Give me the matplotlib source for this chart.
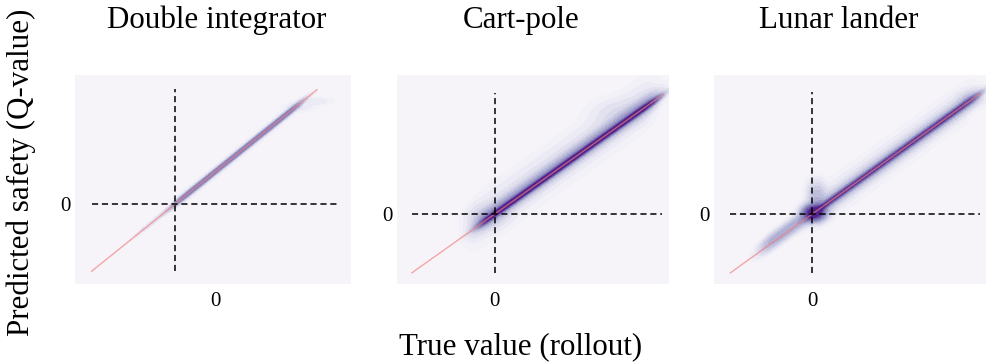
import matplotlib.pyplot as plt
import numpy as np
from matplotlib.colors import LinearSegmentedColormap

plt.rcParams['font.family'] = ['Liberation Serif', 'DejaVu Serif']

titles = ['Double integrator', 'Cart-pole', 'Lunar lander']

# value ranges shown on each panel (scaled units, 0 = safety boundary)
x_lims = [(-1.20, 2.12), (-1.18, 2.10), (-1.20, 2.13)]
y_lims = [(-1.19, 1.93), (-1.19, 2.36), (-1.19, 2.36)]

# extent of the rollout values, predicted values and the y = x reference
true_range = [(-1.0, 1.98), (-1.0, 2.01), (-1.0, 2.04)]
pred_range = [(-1.0, 1.72), (-1.0, 2.05), (-1.0, 2.07)]
diag_range = [(-1.0, 1.71), (-1.0, 2.03), (-1.0, 2.05)]
x_zero_tick = [0.49, 0.0, 0.0]

# density ridges along y = x: start, end, offset above diagonal, width, weight
di_ridges = [(-0.45, 0.0, 0.0, 0.02, 0.05),
             (0.0, 1.50, 0.0, 0.022, 0.40),
             (0.0, 1.50, 0.0, 0.05, 0.05)]
cp_ridges = [(-0.15, 1.95, 0.0, 0.03, 0.8),
             (-0.20, 1.95, 0.03, 0.09, 0.25),
             (-0.30, 1.90, 0.08, 0.24, 0.05)]
ll_ridges = [(0.0, 2.0, 0.0, 0.03, 0.55),
             (-0.05, 2.0, 0.0, 0.08, 0.18),
             (0.0, 1.95, 0.03, 0.18, 0.05),
             (-0.60, -0.05, 0.03, 0.08, 0.22)]

# local clusters: true value, predicted value, spread x, spread y, weight
di_blobs = [(1.50, 1.45, 0.12, 0.04, 0.03),
            (1.70, 1.54, 0.12, 0.035, 0.03)]
cp_blobs = [(-0.10, -0.05, 0.15, 0.12, 0.06),
            (1.45, 1.72, 0.20, 0.15, 0.03)]
ll_blobs = [(0.02, 0.02, 0.08, 0.08, 0.9),
            (0.05, 0.30, 0.07, 0.16, 0.15),
            (1.95, 1.95, 0.10, 0.08, 0.06)]

ridges = [di_ridges, cp_ridges, ll_ridges]
blobs = [di_blobs, cp_blobs, ll_blobs]


def density(X, Y, ridge_list, blob_list):
    D = np.zeros_like(X)
    for x0, x1, off, w, wt in ridge_list:
        L = 0.05
        win = 1 / (1 + np.exp(-(X - x0) / L)) / (1 + np.exp((X - x1) / L))
        D += wt * win * np.exp(-0.5 * ((Y - X - off) / w) ** 2)
    for bx, by, sx, sy, wt in blob_list:
        D += wt * np.exp(-0.5 * (((X - bx) / sx) ** 2 + ((Y - by) / sy) ** 2))
    return D


purples = plt.get_cmap('Purples')
cmap = LinearSegmentedColormap.from_list(
    'kde', [purples(t) for t in np.linspace(0.06, 0.92, 64)])
bg = purples(0.06)

fig = plt.figure(figsize=(9.87, 3.64), dpi=100)
boxes = [(0.076, 0.2198, 0.2796, 0.574),
         (0.4022, 0.2198, 0.2756, 0.574),
         (0.7234, 0.2198, 0.2766, 0.574)]
title_x = [217 / 987, 521 / 987, 839 / 987]

for i in range(3):
    ax = fig.add_axes(boxes[i])
    ax.set_facecolor(bg)
    xs = np.linspace(*x_lims[i], 500)
    ys = np.linspace(*y_lims[i], 400)
    X, Y = np.meshgrid(xs, ys)
    D = np.clip(density(X, Y, ridges[i], blobs[i]), 0, 1) ** 0.45
    cs = ax.contourf(X, Y, D, levels=np.linspace(0.1, 1.0, 16), cmap=cmap,
                     extend='max')
    cs.set_edgecolor('face')
    cs.set_linewidth(0.4)

    ax.plot(diag_range[i], diag_range[i], color='#f27c7c', lw=1, alpha=0.65)
    ax.hlines(0, *true_range[i], colors='black', linestyles=(0, (4, 2.5)), lw=1.1)
    ax.vlines(0, *pred_range[i], colors='black', linestyles=(0, (4, 2.5)), lw=1.1)

    ax.set_xlim(x_lims[i])
    ax.set_ylim(y_lims[i])
    ax.set_xticks([x_zero_tick[i]])
    ax.set_xticklabels(['0'])
    ax.set_yticks([0])
    ax.set_yticklabels(['0'])
    ax.tick_params(length=0, labelsize=15)
    ax.tick_params(axis='x', pad=6)
    ax.tick_params(axis='y', pad=3)
    for s in ax.spines.values():
        s.set_visible(False)

    fig.text(title_x[i], 0.945, titles[i], ha='center', va='center', fontsize=22.3)

fig.text(0.527, 0.047, 'True value (rollout)', ha='center', va='center', fontsize=22.3)
fig.text(0.022, 0.527, 'Predicted safety (Q-value)', ha='center', va='center',
         rotation=90, fontsize=22.3)

plt.savefig('out.png', dpi=100)
